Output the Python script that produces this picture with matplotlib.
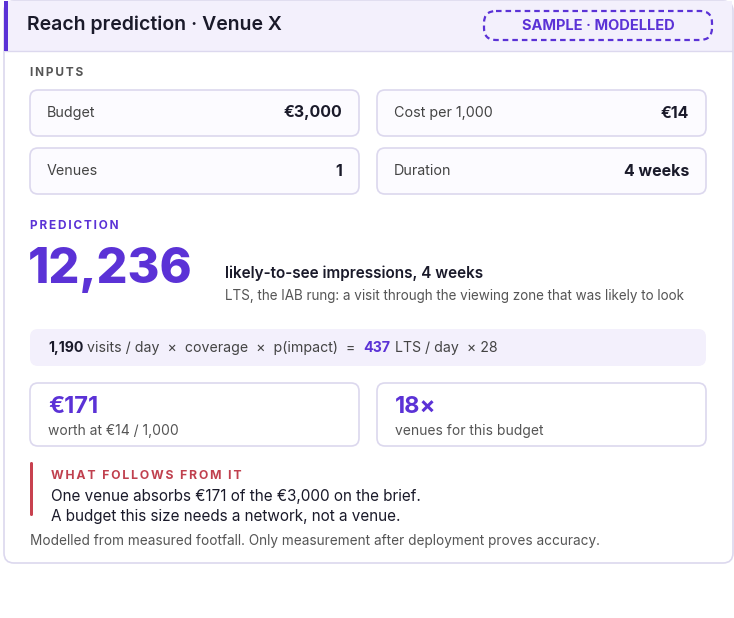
import matplotlib
matplotlib.use("Agg")
import matplotlib.pyplot as plt
from matplotlib.patches import FancyBboxPatch, Rectangle

plt.rcParams['font.family'] = ['Inter', 'DejaVu Sans']

title = "Reach prediction · Venue X"
badge = "SAMPLE · MODELLED"
input_labels = ["Budget", "Cost per 1,000", "Venues", "Duration"]
input_values = ["€3,000", "€14", "1", "4 weeks"]
prediction = "12,236"
pred_title = "likely-to-see impressions, 4 weeks"
pred_sub = "LTS, the IAB rung: a visit through the viewing zone that was likely to look"
formula = [("1,190", "bold", "#1a1a2a"), (" visits / day  ×  coverage  ×  p(impact)  =  ", "normal", "#444"),
           ("437", "bold", "#5b32d6"), (" LTS / day  × 28", "normal", "#444")]
stat_values = ["€171", "18×"]
stat_labels = ["worth at €14 / 1,000", "venues for this budget"]
follow_head = "WHAT FOLLOWS FROM IT"
follow_lines = ["One venue absorbs €171 of the €3,000 on the brief.",
                "A budget this size needs a network, not a venue."]
footer = "Modelled from measured footfall. Only measurement after deployment proves accuracy."

PURPLE = "#5b32d6"
BORDER = "#dcd8ee"
fig = plt.figure(figsize=(7.34, 6.18), dpi=100)
ax = fig.add_axes([0, 0, 1, 1])
ax.set_xlim(0, 734); ax.set_ylim(618, 0); ax.axis('off')

def rbox(x0, y0, x1, y1, fc="white", ec=BORDER, lw=1.2, r=7, ls='-', z=1):
    ax.add_patch(FancyBboxPatch((x0, y0), x1-x0, y1-y0, boxstyle=f"round,pad=0,rounding_size={r}",
                                fc=fc, ec=ec, lw=lw, ls=ls, zorder=z))

def spaced(s):
    return "\u2009".join(s)

# card
rbox(4, 1, 733, 563, r=10)
ax.add_patch(Rectangle((5, 1), 727, 50, fc="#f3f0fc", ec="none", zorder=1.5))
ax.plot([5, 732], [51, 51], color=BORDER, lw=1, zorder=2)
ax.add_patch(Rectangle((4, 1), 4, 50, fc=PURPLE, ec="none", zorder=2))
ax.text(27, 25, title, fontsize=14, fontweight='semibold', color="#1a1a2a", va='center', zorder=3)
rbox(484, 11, 712, 40, fc="none", ec=PURPLE, lw=1.6, r=12, ls=(0, (2.5, 1.8)), z=3)
ax.text(598, 26, badge, fontsize=10.5, fontweight='bold', color=PURPLE, ha='center', va='center', zorder=3)

ax.text(30, 73, spaced("INPUTS"), fontsize=8.5, fontweight='bold', color="#555", va='center', zorder=3)
boxes = [(30, 359, 90, 136), (377, 706, 90, 136), (30, 359, 148, 194), (377, 706, 148, 194)]
for (x0, x1, y0, y1), lab, val in zip(boxes, input_labels, input_values):
    rbox(x0, y0, x1, y1, fc="#fcfbff", r=8, z=2)
    yc = (y0 + y1) / 2
    ax.text(x0 + 17, yc, lab, fontsize=10.3, color="#444", va='center', zorder=3)
    ax.text(x1 - 17, yc, val, fontsize=11.5, fontweight='bold', color="#1a1a2a", ha='right', va='center', zorder=3)

ax.text(30, 226, spaced("PREDICTION"), fontsize=8.5, fontweight='bold', color=PURPLE, va='center', zorder=3)
ax.text(28, 270, prediction, fontsize=35, fontweight='heavy', color=PURPLE, va='center', zorder=3)
ax.text(225, 273, pred_title, fontsize=11, fontweight='semibold', color="#1a1a2a", va='center', zorder=3)
ax.text(225, 296, pred_sub, fontsize=9.7, color="#555", va='center', zorder=3)

rbox(30, 329, 706, 366, fc="#f3f0fc", ec="none", r=8, z=2)
r = fig.canvas.get_renderer()
x = 48
for s, w, c in formula:
    t = ax.text(x, 348, s, fontsize=10.2, fontweight=w, color=c, va='center', zorder=3)
    x += t.get_window_extent(r).width

for (x0, x1), v, l in zip([(30, 359), (377, 706)], stat_values, stat_labels):
    rbox(x0, 383, x1, 446, r=8, z=2)
    ax.text(x0 + 18, 407, v, fontsize=17, fontweight='bold', color=PURPLE, va='center', zorder=3)
    ax.text(x0 + 18, 431, l, fontsize=10, color="#555", va='center', zorder=3)

ax.add_patch(FancyBboxPatch((30, 462), 3, 54, boxstyle="round,pad=0,rounding_size=1.5", fc="#c8414f", ec="none", zorder=3))
ax.text(51, 476, spaced(follow_head), fontsize=8.8, fontweight='bold', color="#c0404e", va='center', zorder=3)
for i, line in enumerate(follow_lines):
    ax.text(51, 497 + 19 * i, line, fontsize=11, color="#1a1a2a", va='center', zorder=3)
ax.text(30, 541, footer, fontsize=9.8, color="#555", va='center', zorder=3)

fig.savefig("out.png", dpi=100, facecolor="white")
